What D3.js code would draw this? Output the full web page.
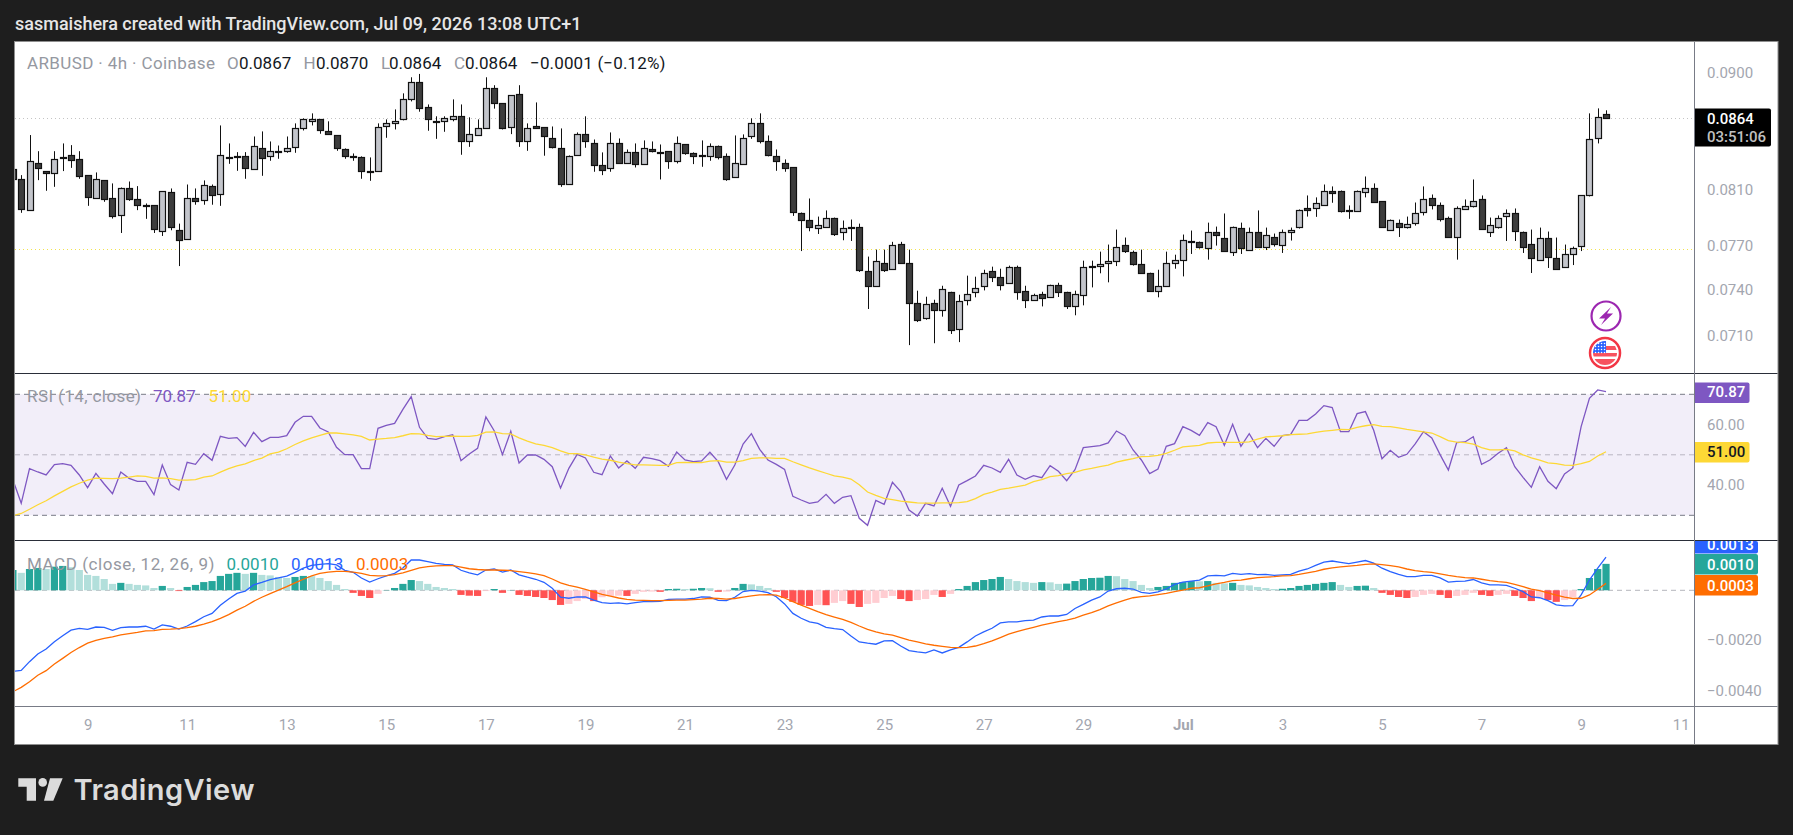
<!DOCTYPE html>
<html>
<head>
<meta charset="utf-8">
<title>ARBUSD 4h</title>
<script src="https://cdn.jsdelivr.net/npm/d3@7"></script>
<style>
  html, body { margin: 0; padding: 0; background: #1e1e1e; overflow: hidden; }
  svg { display: block; }
  text { font-family: Roboto, "Open Sans", sans-serif; }
  .tick text { fill: #a3a6af; font-size: 15px; }
</style>
</head>
<body>
<script>
// values, first entry is the bar cut by the left edge
var opens = [0.08248,0.08174,0.07949,0.08293,0.08233,0.08218,0.08338,0.08353,0.08323,0.08204,0.08035,0.08167,0.08035,0.07913,0.08108,0.08028,0.07985,0.07985,0.07799,0.08079,0.07813,0.07743,0.08035,0.08028,0.08123,0.08064,0.08338,0.08346,0.08346,0.08255,0.08413,0.08346,0.08383,0.08383,0.08413,0.08559,0.08614,0.08629,0.08536,0.08505,0.08398,0.08346,0.08338,0.08233,0.08233,0.08574,0.08598,0.08629,0.08786,0.08922,0.08723,0.08614,0.08614,0.08629,0.08653,0.08459,0.08505,0.08559,0.08874,0.08755,0.08567,0.08826,0.08459,0.08574,0.08567,0.08482,0.08406,0.08137,0.08353,0.08513,0.08444,0.08283,0.08255,0.08444,0.08293,0.08376,0.08285,0.08398,0.08376,0.08383,0.08308,0.08436,0.08368,0.08353,0.08353,0.08428,0.08346,0.08189,0.08285,0.08497,0.08598,0.08459,0.08346,0.08293,0.08263,0.07934,0.07884,0.07827,0.07834,0.07898,0.07799,0.07834,0.07834,0.07529,0.07427,0.07583,0.07542,0.07715,0.07583,0.07315,0.07216,0.07315,0.07268,0.07387,0.07145,0.07334,0.07387,0.07427,0.07529,0.07488,0.07447,0.07556,0.07394,0.07334,0.07374,0.07354,0.07434,0.07387,0.07295,0.07367,0.07563,0.07563,0.07583,0.07597,0.07708,0.07659,0.07577,0.07515,0.07394,0.07427,0.07583,0.07604,0.07736,0.07729,0.07687,0.07799,0.07757,0.07659,0.07827,0.07673,0.07799,0.07694,0.07764,0.07708,0.07799,0.07827,0.07963,0.07963,0.07985,0.08093,0.08093,0.07949,0.07949,0.08086,0.08108,0.08014,0.07813,0.07862,0.07834,0.07862,0.07934,0.08035,0.07985,0.07898,0.07757,0.07956,0.07978,0.08028,0.07799,0.07834,0.07913,0.07927,0.07799,0.07715,0.07604,0.07757,0.07617,0.07556,0.07645,0.07694,0.08057,0.08482,0.08668];
var highs = [0.08268,0.08206,0.08508,0.08385,0.08233,0.08385,0.08444,0.08431,0.08385,0.08204,0.08226,0.08167,0.08145,0.08115,0.08159,0.08125,0.07999,0.07985,0.08086,0.08108,0.07855,0.08137,0.08108,0.08167,0.08137,0.08582,0.08444,0.08378,0.08378,0.08497,0.08536,0.08459,0.08428,0.08497,0.08598,0.08637,0.08676,0.08629,0.08614,0.08505,0.08406,0.08368,0.08346,0.08338,0.08598,0.08629,0.08707,0.08834,0.08963,0.08990,0.08746,0.08653,0.08653,0.08786,0.08746,0.08645,0.08629,0.08963,0.08899,0.08755,0.08818,0.08899,0.08598,0.08762,0.08567,0.08574,0.08559,0.08353,0.08528,0.08653,0.08474,0.08376,0.08528,0.08482,0.08398,0.08444,0.08467,0.08459,0.08436,0.08383,0.08497,0.08436,0.08376,0.08467,0.08444,0.08428,0.08368,0.08505,0.08513,0.08637,0.08676,0.08505,0.08398,0.08323,0.08263,0.07934,0.08035,0.07905,0.07949,0.07898,0.07877,0.07884,0.07855,0.07625,0.07673,0.07673,0.07727,0.07727,0.07673,0.07394,0.07354,0.07334,0.07427,0.07387,0.07367,0.07495,0.07488,0.07535,0.07556,0.07542,0.07563,0.07563,0.07427,0.07374,0.07387,0.07434,0.07447,0.07387,0.07394,0.07597,0.07597,0.07659,0.07708,0.07813,0.07757,0.07666,0.07673,0.07515,0.07535,0.07659,0.07638,0.07778,0.07806,0.07729,0.07862,0.07834,0.07927,0.07834,0.07862,0.07827,0.07949,0.07827,0.07785,0.07813,0.07827,0.07956,0.08057,0.08043,0.08137,0.08123,0.08093,0.07985,0.08093,0.08196,0.08145,0.08014,0.07884,0.07884,0.07905,0.08006,0.08123,0.08064,0.08006,0.07905,0.07978,0.08028,0.08174,0.08057,0.07898,0.07913,0.07956,0.07963,0.07799,0.07813,0.07827,0.07799,0.07757,0.07708,0.07694,0.08057,0.08676,0.08715,0.08700];
var lows = [0.08174,0.07932,0.07949,0.08169,0.08091,0.08120,0.08236,0.08260,0.08179,0.07982,0.08035,0.08011,0.07891,0.07789,0.08018,0.07951,0.07889,0.07789,0.07768,0.07808,0.07560,0.07743,0.07990,0.07990,0.07990,0.07982,0.08290,0.08238,0.08179,0.08255,0.08201,0.08313,0.08328,0.08373,0.08373,0.08543,0.08582,0.08518,0.08513,0.08388,0.08328,0.08313,0.08179,0.08164,0.08233,0.08487,0.08551,0.08621,0.08770,0.08689,0.08541,0.08479,0.08533,0.08614,0.08358,0.08418,0.08505,0.08559,0.08713,0.08551,0.08515,0.08418,0.08388,0.08559,0.08351,0.08406,0.08120,0.08137,0.08353,0.08411,0.08231,0.08206,0.08231,0.08293,0.08293,0.08263,0.08285,0.08376,0.08174,0.08253,0.08293,0.08358,0.08288,0.08268,0.08313,0.08323,0.08164,0.08189,0.08285,0.08479,0.08444,0.08346,0.08238,0.08231,0.07910,0.07663,0.07801,0.07782,0.07834,0.07768,0.07738,0.07733,0.07520,0.07273,0.07427,0.07520,0.07542,0.07583,0.07040,0.07188,0.07203,0.07052,0.07223,0.07111,0.07059,0.07297,0.07350,0.07396,0.07452,0.07396,0.07447,0.07334,0.07279,0.07334,0.07290,0.07354,0.07352,0.07273,0.07232,0.07297,0.07416,0.07511,0.07450,0.07560,0.07650,0.07563,0.07515,0.07394,0.07350,0.07427,0.07542,0.07490,0.07643,0.07680,0.07604,0.07701,0.07666,0.07629,0.07643,0.07673,0.07694,0.07670,0.07694,0.07650,0.07736,0.07820,0.07905,0.07903,0.07985,0.08004,0.07934,0.07889,0.07941,0.08043,0.08006,0.07827,0.07806,0.07761,0.07820,0.07841,0.07913,0.07956,0.07870,0.07764,0.07604,0.07956,0.07970,0.07813,0.07761,0.07820,0.07733,0.07733,0.07650,0.07513,0.07604,0.07547,0.07535,0.07549,0.07567,0.07663,0.08050,0.08444,0.08640];
var closes = [0.08174,0.07956,0.08308,0.08255,0.08218,0.08323,0.08339,0.08316,0.08196,0.08042,0.08174,0.08028,0.07903,0.08108,0.08028,0.07985,0.07986,0.07813,0.08086,0.07827,0.07743,0.08035,0.08014,0.08137,0.08057,0.08353,0.08339,0.08347,0.08255,0.08428,0.08338,0.08383,0.08384,0.08406,0.08559,0.08629,0.08629,0.08543,0.08513,0.08406,0.08346,0.08347,0.08233,0.08223,0.08567,0.08598,0.08614,0.08786,0.08922,0.08715,0.08629,0.08606,0.08637,0.08653,0.08459,0.08513,0.08559,0.08874,0.08755,0.08559,0.08818,0.08459,0.08559,0.08559,0.08497,0.08413,0.08137,0.08346,0.08513,0.08459,0.08278,0.08248,0.08444,0.08293,0.08376,0.08285,0.08406,0.08383,0.08368,0.08308,0.08444,0.08368,0.08346,0.08346,0.08428,0.08346,0.08174,0.08293,0.08482,0.08598,0.08459,0.08353,0.08308,0.08255,0.07934,0.07884,0.07834,0.07848,0.07898,0.07785,0.07827,0.07827,0.07535,0.07427,0.07597,0.07535,0.07708,0.07583,0.07315,0.07203,0.07308,0.07268,0.07407,0.07138,0.07328,0.07374,0.07414,0.07515,0.07488,0.07434,0.07556,0.07387,0.07334,0.07367,0.07348,0.07434,0.07387,0.07295,0.07374,0.07556,0.07554,0.07577,0.07597,0.07694,0.07666,0.07577,0.07515,0.07394,0.07427,0.07583,0.07604,0.07743,0.07729,0.07694,0.07799,0.07778,0.07666,0.07834,0.07687,0.07799,0.07694,0.07778,0.07715,0.07799,0.07813,0.07949,0.07949,0.07999,0.08086,0.08079,0.07949,0.07950,0.08093,0.08115,0.08006,0.07827,0.07884,0.07834,0.07855,0.07934,0.08028,0.07985,0.07884,0.07764,0.07963,0.07978,0.08014,0.07813,0.07848,0.07898,0.07934,0.07799,0.07694,0.07617,0.07757,0.07625,0.07542,0.07645,0.07687,0.08057,0.08474,0.08645,0.08640];

var rsi = [41.7,33.96,45.42,44.32,43.33,46.74,47.07,46.52,43.33,39.14,43.88,40.35,37.16,44.32,42.23,41.23,41.23,36.83,46.63,40.13,38.37,47.51,46.85,50.38,48.18,56.11,55.45,55.67,52.80,57.43,54.35,55.78,55.78,56.33,60.74,62.72,62.72,58.87,57.54,52.47,50.05,50.05,45.42,45.42,58.76,59.75,60.41,65.04,69.22,59.09,55.45,55.12,56.00,56.66,48.07,50.27,52.14,62.50,57.98,50.05,57.76,47.29,49.94,49.94,48.51,46.08,39.03,45.53,50.16,48.95,44.21,43.44,49.61,45.64,47.96,45.53,49.17,48.73,48.07,46.19,50.93,48.29,47.74,47.96,50.82,47.74,41.89,46.63,53.58,56.99,51.81,48.29,46.85,45.20,36.27,35.06,33.96,34.40,36.94,33.96,35.94,36.50,29.00,26.69,34.95,33.63,40.90,37.82,31.76,29.77,33.96,33.08,38.92,32.97,40.02,41.45,43.00,46.52,45.64,44.21,48.51,43.33,41.89,43.11,42.45,46.41,44.54,41.45,45.09,52.36,52.69,53.02,53.91,57.87,56.33,51.59,48.29,43.77,45.31,52.80,53.69,59.31,58.09,56.44,60.63,59.31,53.13,60.08,52.80,56.99,52.36,55.45,52.80,56.33,56.77,61.40,61.40,63.49,66.25,65.59,57.65,57.65,63.60,64.27,58.09,48.73,51.48,49.17,50.16,53.58,57.65,55.56,50.05,44.98,54.02,54.24,56.00,46.85,48.29,50.49,52.36,46.08,42.56,39.25,46.08,41.23,38.81,43.66,45.64,59.31,68.67,71.43,70.87];
var rsiMa = [29.9,30.6,32.0,33.5,34.8,36.4,37.9,39.4,40.6,41.6,42.3,42.2,42.1,42.3,42.6,43.0,42.9,42.3,42.4,42.1,41.6,41.6,41.8,42.6,43.0,44.3,45.4,46.3,47.0,48.1,48.9,50.3,50.9,52.0,53.4,54.6,55.6,56.4,57.2,57.2,56.9,56.6,56.1,54.9,55.2,55.4,55.7,56.3,57.0,56.9,56.4,56.0,56.1,56.2,56.1,56.1,56.4,57.5,57.6,57.0,56.9,55.6,54.5,53.6,53.1,52.4,51.3,50.4,50.4,50.0,49.2,48.6,48.2,47.6,47.1,46.7,46.7,46.6,46.5,46.5,47.4,47.5,47.4,47.4,47.9,48.1,47.6,47.6,48.1,48.8,49.0,49.0,48.8,48.8,47.7,46.7,45.7,44.8,43.9,43.0,42.6,42.0,40.1,37.7,36.6,35.6,35.2,34.7,34.4,34.1,34.0,34.0,34.1,34.1,34.2,34.5,35.5,36.9,37.7,38.6,39.0,39.5,40.0,41.1,41.8,42.8,43.1,43.8,44.2,45.0,45.5,46.1,46.6,47.6,48.2,48.7,49.4,49.5,49.8,50.5,51.5,52.6,52.9,53.1,53.9,54.1,54.1,54.1,54.1,54.3,55.2,55.9,56.1,56.3,56.7,56.8,56.9,57.4,57.8,58.1,58.4,58.3,59.1,59.6,60.0,59.4,59.3,58.9,58.4,58.0,57.6,57.2,56.0,54.7,54.2,54.0,53.5,52.4,51.6,51.6,51.8,51.3,50.0,49.0,48.2,47.3,47.1,46.6,46.5,47.1,47.8,49.6,51.0];

var macdHist = [0.00079,0.00068,0.00083,0.00087,0.00083,0.00092,0.00095,0.00090,0.00079,0.00060,0.00056,0.00044,0.00025,0.00029,0.00025,0.00021,0.00019,0.00009,0.00017,0.00009,-0.00003,0.00013,0.00021,0.00032,0.00036,0.00056,0.00064,0.00068,0.00064,0.00068,0.00060,0.00058,0.00052,0.00048,0.00052,0.00056,0.00055,0.00048,0.00036,0.00021,0.00005,-0.00010,-0.00022,-0.00030,-0.00014,0.00001,0.00009,0.00025,0.00040,0.00036,0.00025,0.00013,0.00009,0.00005,-0.00018,-0.00021,-0.00022,-0.00003,0.00005,-0.00010,0.00001,-0.00018,-0.00022,-0.00026,-0.00030,-0.00038,-0.00057,-0.00053,-0.00042,-0.00034,-0.00042,-0.00027,-0.00022,-0.00021,-0.00022,-0.00014,-0.00006,-0.00005,-0.00006,0.00005,0.00006,0.00005,0.00006,0.00009,0.00008,-0.00006,-0.00005,0.00009,0.00025,0.00023,0.00017,0.00009,-0.00006,-0.00030,-0.00045,-0.00057,-0.00061,-0.00057,-0.00058,-0.00049,-0.00042,-0.00053,-0.00065,-0.00053,-0.00049,-0.00030,-0.00022,-0.00034,-0.00042,-0.00038,-0.00034,-0.00018,-0.00026,-0.00014,0.00005,0.00017,0.00032,0.00040,0.00044,0.00052,0.00044,0.00036,0.00032,0.00029,0.00032,0.00031,0.00025,0.00026,0.00036,0.00044,0.00048,0.00049,0.00056,0.00055,0.00044,0.00036,0.00021,0.00009,0.00013,0.00017,0.00029,0.00032,0.00036,0.00035,0.00036,0.00029,0.00027,0.00029,0.00021,0.00019,0.00013,0.00009,0.00005,0.00006,0.00009,0.00017,0.00021,0.00025,0.00029,0.00032,0.00021,0.00013,0.00017,0.00018,0.00009,-0.00010,-0.00018,-0.00026,-0.00030,-0.00026,-0.00018,-0.00014,-0.00018,-0.00030,-0.00022,-0.00018,-0.00010,-0.00018,-0.00022,-0.00018,-0.00014,-0.00022,-0.00030,-0.00042,-0.00030,-0.00038,-0.00045,-0.00038,-0.00026,0.00005,0.00048,0.00083,0.00103];
var macdLine = [-0.00316,-0.00312,-0.00278,-0.00248,-0.00229,-0.00200,-0.00177,-0.00155,-0.00148,-0.00152,-0.00143,-0.00144,-0.00156,-0.00145,-0.00143,-0.00143,-0.00140,-0.00151,-0.00135,-0.00140,-0.00151,-0.00139,-0.00122,-0.00103,-0.00090,-0.00058,-0.00034,-0.00012,-0.00003,0.00021,0.00031,0.00042,0.00048,0.00055,0.00070,0.00086,0.00097,0.00101,0.00104,0.00099,0.00078,0.00070,0.00048,0.00032,0.00045,0.00056,0.00066,0.00087,0.00118,0.00118,0.00112,0.00105,0.00101,0.00099,0.00078,0.00068,0.00060,0.00079,0.00083,0.00071,0.00079,0.00060,0.00051,0.00043,0.00031,0.00008,-0.00027,-0.00031,-0.00026,-0.00026,-0.00038,-0.00048,-0.00051,-0.00049,-0.00053,-0.00048,-0.00044,-0.00044,-0.00043,-0.00035,-0.00034,-0.00034,-0.00032,-0.00026,-0.00027,-0.00039,-0.00040,-0.00027,-0.00005,0.00000,-0.00003,-0.00009,-0.00025,-0.00053,-0.00090,-0.00109,-0.00123,-0.00129,-0.00144,-0.00149,-0.00153,-0.00178,-0.00201,-0.00206,-0.00210,-0.00197,-0.00196,-0.00217,-0.00235,-0.00240,-0.00244,-0.00232,-0.00244,-0.00232,-0.00222,-0.00201,-0.00178,-0.00162,-0.00148,-0.00127,-0.00123,-0.00123,-0.00118,-0.00116,-0.00104,-0.00100,-0.00100,-0.00094,-0.00071,-0.00055,-0.00038,-0.00026,-0.00003,0.00006,0.00008,0.00005,-0.00008,-0.00012,-0.00006,0.00005,0.00023,0.00032,0.00036,0.00040,0.00056,0.00058,0.00056,0.00066,0.00062,0.00065,0.00061,0.00062,0.00058,0.00060,0.00062,0.00075,0.00083,0.00097,0.00110,0.00114,0.00109,0.00104,0.00110,0.00116,0.00106,0.00086,0.00073,0.00062,0.00053,0.00053,0.00058,0.00058,0.00048,0.00032,0.00035,0.00036,0.00042,0.00029,0.00021,0.00021,0.00019,0.00008,-0.00005,-0.00026,-0.00029,-0.00040,-0.00057,-0.00061,-0.00060,-0.00018,0.00040,0.00086,0.00129];
var macdSignal = [-0.00395,-0.00378,-0.00356,-0.00331,-0.00313,-0.00287,-0.00265,-0.00242,-0.00223,-0.00206,-0.00195,-0.00187,-0.00181,-0.00174,-0.00169,-0.00164,-0.00158,-0.00157,-0.00152,-0.00151,-0.00149,-0.00145,-0.00140,-0.00132,-0.00122,-0.00109,-0.00095,-0.00077,-0.00062,-0.00043,-0.00027,-0.00013,0.00001,0.00014,0.00029,0.00043,0.00056,0.00066,0.00071,0.00074,0.00074,0.00071,0.00066,0.00058,0.00056,0.00057,0.00061,0.00068,0.00078,0.00087,0.00092,0.00095,0.00096,0.00096,0.00090,0.00084,0.00081,0.00079,0.00079,0.00078,0.00077,0.00073,0.00069,0.00064,0.00057,0.00044,0.00029,0.00019,0.00012,0.00004,-0.00006,-0.00016,-0.00023,-0.00030,-0.00035,-0.00038,-0.00039,-0.00040,-0.00040,-0.00039,-0.00038,-0.00038,-0.00036,-0.00034,-0.00031,-0.00032,-0.00034,-0.00032,-0.00027,-0.00022,-0.00018,-0.00017,-0.00019,-0.00030,-0.00044,-0.00058,-0.00070,-0.00083,-0.00095,-0.00104,-0.00113,-0.00125,-0.00139,-0.00152,-0.00162,-0.00170,-0.00175,-0.00184,-0.00194,-0.00201,-0.00209,-0.00214,-0.00218,-0.00222,-0.00223,-0.00222,-0.00217,-0.00208,-0.00197,-0.00184,-0.00171,-0.00161,-0.00152,-0.00144,-0.00136,-0.00129,-0.00122,-0.00116,-0.00108,-0.00097,-0.00087,-0.00075,-0.00061,-0.00049,-0.00038,-0.00029,-0.00025,-0.00022,-0.00017,-0.00012,-0.00005,0.00001,0.00008,0.00010,0.00017,0.00025,0.00031,0.00038,0.00040,0.00045,0.00049,0.00051,0.00053,0.00056,0.00057,0.00062,0.00068,0.00074,0.00082,0.00087,0.00091,0.00094,0.00097,0.00101,0.00103,0.00100,0.00096,0.00091,0.00083,0.00077,0.00073,0.00070,0.00064,0.00058,0.00053,0.00049,0.00048,0.00043,0.00038,0.00034,0.00031,0.00023,0.00014,0.00005,-0.00001,-0.00010,-0.00019,-0.00027,-0.00032,-0.00031,-0.00018,0.00004,0.00027];

var priceTicks = [0.09, 0.081, 0.077, 0.074, 0.071];
var rsiTicks = [60, 40];
var macdTicks = [-0.002, -0.004];
var dayTicks = [
  new Date(Date.UTC(2026,5,9)), new Date(Date.UTC(2026,5,11)), new Date(Date.UTC(2026,5,13)),
  new Date(Date.UTC(2026,5,15)), new Date(Date.UTC(2026,5,17)), new Date(Date.UTC(2026,5,19)),
  new Date(Date.UTC(2026,5,21)), new Date(Date.UTC(2026,5,23)), new Date(Date.UTC(2026,5,25)),
  new Date(Date.UTC(2026,5,27)), new Date(Date.UTC(2026,5,29)), new Date(Date.UTC(2026,6,1)),
  new Date(Date.UTC(2026,6,3)), new Date(Date.UTC(2026,6,5)), new Date(Date.UTC(2026,6,7)),
  new Date(Date.UTC(2026,6,9)), new Date(Date.UTC(2026,6,11))
];

var lastPrice = 0.0864, supportPrice = 0.0768;

var dates = opens.map(function(d, i) {
  return new Date(Date.UTC(2026, 5, 7, 12 + i * 4));
});

var W = 1793, H = 835;
var left = 15, right = 1694, outer = 1777.5, frameTop = 42, frameBottom = 744;
var pane1 = 373.5, pane2 = 540.5, pane3 = 706.5;

var x = d3.scaleUtc()
    .domain([new Date(Date.UTC(2026,5,9)), new Date(Date.UTC(2026,6,11))])
    .range([87.6, 1680.7]);
var y = d3.scaleLog().domain([0.09, 0.071]).range([72.7, 335.7]);
var yRsi = d3.scaleLinear().domain([70, 30]).range([394.3, 515.3]);
var yMacd = d3.scaleLinear().domain([0, -0.004]).range([590.3, 693]);

var svg = d3.select("body").append("svg").attr("width", W).attr("height", H);
var defs = svg.append("defs");

function clip(id, y0, y1) {
  defs.append("clipPath").attr("id", id).append("rect")
      .attr("x", left).attr("y", y0).attr("width", right - left).attr("height", y1 - y0);
}
clip("c1", frameTop, pane1);
clip("c2", pane1, pane2);
clip("c3", pane2, pane3);

// frame
svg.append("rect").attr("x", left - 0.5).attr("y", frameTop - 0.5)
    .attr("width", outer - left + 1).attr("height", frameBottom - frameTop + 1)
    .attr("fill", "#fff").attr("stroke", "#8f8f8f");

function hline(yy, x1, color, dash, width) {
  svg.append("line").attr("x1", left).attr("x2", x1).attr("y1", yy).attr("y2", yy)
      .attr("stroke", color).attr("stroke-width", width || 1)
      .attr("stroke-dasharray", dash || null);
}

// ---- price pane
var g1 = svg.append("g").attr("clip-path", "url(#c1)");
g1.append("line").attr("x1", left).attr("x2", right)
    .attr("y1", Math.round(y(lastPrice)) + 0.5).attr("y2", Math.round(y(lastPrice)) + 0.5)
    .attr("stroke", "#c4c4c4").attr("stroke-dasharray", "1 3");
g1.append("line").attr("x1", left).attr("x2", right)
    .attr("y1", Math.round(y(supportPrice)) + 0.5).attr("y2", Math.round(y(supportPrice)) + 0.5)
    .attr("stroke", "#f2e34c").attr("stroke-dasharray", "1 3");

var candle = g1.selectAll("g.candle").data(dates).enter().append("g").attr("class", "candle");
candle.append("line")
    .attr("x1", function(d) { return Math.round(x(d)) + 0.5; })
    .attr("x2", function(d) { return Math.round(x(d)) + 0.5; })
    .attr("y1", function(d, i) { return y(highs[i]); })
    .attr("y2", function(d, i) { return y(lows[i]); })
    .attr("stroke", "#111");
candle.append("rect")
    .attr("x", function(d) { return Math.round(x(d)) - 2.5; })
    .attr("width", 6)
    .attr("y", function(d, i) { return Math.round(y(Math.max(opens[i], closes[i]))) + 0.5; })
    .attr("height", function(d, i) {
      return Math.max(1, Math.round(Math.abs(y(opens[i]) - y(closes[i]))));
    })
    .attr("fill", function(d, i) { return closes[i] >= opens[i] ? "#c3c5cb" : "#3d3d3d"; })
    .attr("stroke", "#111")
    .attr("stroke-width", 1.2);

// ---- rsi pane
var g2 = svg.append("g").attr("clip-path", "url(#c2)");
g2.append("rect").attr("x", left).attr("width", right - left)
    .attr("y", yRsi(70)).attr("height", yRsi(30) - yRsi(70))
    .attr("fill", "#7e57c2").attr("fill-opacity", 0.1);
[[70, "#787b86"], [50, "#b9b5c2"], [30, "#787b86"]].forEach(function(r) {
  g2.append("line").attr("x1", left).attr("x2", right)
      .attr("y1", yRsi(r[0])).attr("y2", yRsi(r[0]))
      .attr("stroke", r[1]).attr("stroke-dasharray", "5 4");
});
var rsiPath = d3.line().x(function(d, i) { return x(dates[i]); }).y(function(d) { return yRsi(d); });
g2.append("path").datum(rsi).attr("d", rsiPath)
    .attr("fill", "none").attr("stroke", "#7e57c2").attr("stroke-width", 1.3);
g2.append("path").datum(rsiMa).attr("d", rsiPath)
    .attr("fill", "none").attr("stroke", "#fdd835").attr("stroke-width", 1.3);

// ---- macd pane
var g3 = svg.append("g").attr("clip-path", "url(#c3)");
g3.append("line").attr("x1", left).attr("x2", right)
    .attr("y1", yMacd(0)).attr("y2", yMacd(0))
    .attr("stroke", "#b4b6bc").attr("stroke-dasharray", "5 4");
g3.selectAll("rect.bar").data(macdHist).enter().append("rect")
    .attr("class", "bar")
    .attr("x", function(d, i) { return x(dates[i]) - 3.6; })
    .attr("width", 7.2)
    .attr("y", function(d) { return Math.min(yMacd(d), yMacd(0)); })
    .attr("height", function(d) { return Math.abs(yMacd(d) - yMacd(0)); })
    .attr("fill", function(d, i) {
      var prev = i ? macdHist[i - 1] : 0;
      if (d >= 0) return d > prev ? "#26a69a" : "#b2dfdb";
      return d < prev ? "#ff5252" : "#ffcdd2";
    });
var macdPath = d3.line().x(function(d, i) { return x(dates[i]); }).y(function(d) { return yMacd(d); });
g3.append("path").datum(macdLine).attr("d", macdPath)
    .attr("fill", "none").attr("stroke", "#2962ff").attr("stroke-width", 1.3);
g3.append("path").datum(macdSignal).attr("d", macdPath)
    .attr("fill", "none").attr("stroke", "#ff6d00").attr("stroke-width", 1.3);

// ---- pane borders
hline(pane1, outer, "#2a2e39");
hline(pane2, outer, "#2a2e39");
hline(pane3, outer, "#787b86");
svg.append("line").attr("x1", right + 0.5).attr("x2", right + 0.5).attr("y1", frameTop).attr("y2", frameBottom)
    .attr("stroke", "#787b86");

// ---- axes
function styleAxis(g) {
  g.select(".domain").remove();
  g.selectAll(".tick line").remove();
  g.selectAll(".tick text").attr("x", 13);
}
svg.append("g").attr("transform", "translate(" + right + ",0)")
    .call(d3.axisRight(y).tickValues(priceTicks).tickFormat(d3.format(".4f")).tickSize(0))
    .call(styleAxis);
svg.append("g").attr("transform", "translate(" + right + ",0)")
    .call(d3.axisRight(yRsi).tickValues(rsiTicks).tickFormat(d3.format(".2f")).tickSize(0))
    .call(styleAxis);
svg.append("g").attr("transform", "translate(" + right + ",-2.3)")
    .call(d3.axisRight(yMacd).tickValues(macdTicks)
      .tickFormat(function(d) { return "\u2212" + d3.format(".4f")(-d); }).tickSize(0))
    .call(styleAxis);

var xAxis = svg.append("g").attr("transform", "translate(0,725)")
    .call(d3.axisBottom(x).tickValues(dayTicks).tickSize(0)
      .tickFormat(function(d) { return d.getUTCDate() === 1 ? "Jul" : d.getUTCDate(); }));
xAxis.select(".domain").remove();
xAxis.selectAll(".tick line").remove();
xAxis.selectAll(".tick text").attr("y", 0).attr("dy", "0.35em")
    .style("font-weight", function(d) { return d.getUTCDate() === 1 ? 700 : 400; });

// ---- price tags
function tag(y0, y1, width, color) {
  var gt = svg.append("g");
  gt.append("path")
      .attr("d", "M" + (right + 1) + "," + y0 + "H" + (right + width - 2) + "q2,0 2,2V" + (y1 - 2) +
        "q0,2 -2,2H" + (right + 1) + "Z")
      .attr("fill", color);
  return gt;
}
function tagText(gt, yy, s, color) {
  gt.append("text").attr("x", right + 13).attr("y", yy).attr("dy", "0.35em")
      .attr("fill", color).style("font-size", "15px").style("font-weight", 500).text(s);
}
var tPrice = tag(108.5, 146.5, 77, "#000");
tagText(tPrice, 119, "0.0864", "#fff");
tagText(tPrice, 137, "03:51:06", "#c0c0c0");
tagText(tag(382.5, 403, 55.5, "#7e57c2"), yRsi(70.87), "70.87", "#fff");
tagText(tag(442, 462.5, 55.5, "#fdd835"), yRsi(51) - 0.5, "51.00", "#131722");
var tBlue = tag(541, 553.5, 64, "#2962ff");
tBlue.append("clipPath").attr("id", "c4").append("rect")
    .attr("x", right).attr("y", 541).attr("width", 70).attr("height", 14);
tBlue.append("text").attr("x", right + 13).attr("y", 545).attr("dy", "0.35em")
    .attr("clip-path", "url(#c4)").attr("fill", "#fff")
    .style("font-size", "15px").style("font-weight", 500).text("0.0013");
tagText(tag(554, 574.5, 64, "#26a69a"), 564.5, "0.0010", "#fff");
tagText(tag(575, 595.5, 64, "#ff6d00"), 585.5, "0.0003", "#fff");

// ---- legends
function legend(xx, yy, s, color, len) {
  var t = svg.append("text").attr("x", xx).attr("y", yy).attr("dy", "0.35em")
      .attr("fill", color).style("font-size", "17px").text(s);
  if (len) t.attr("textLength", len);
}
var grey = "#9598a1";
legend(27, 63.5, "ARBUSD \u00b7 4h \u00b7 Coinbase", grey, 188);
legend(227, 63.5, "O", grey); legend(239, 63.5, "0.0867", "#131722");
legend(303.5, 63.5, "H", grey); legend(316, 63.5, "0.0870", "#131722");
legend(381, 63.5, "L", grey); legend(389, 63.5, "0.0864", "#131722");
legend(454, 63.5, "C", grey); legend(465, 63.5, "0.0864", "#131722");
legend(530, 63.5, "\u22120.0001 (\u22120.12%)", "#131722", 135.5);
legend(27, 396.5, "RSI (14, close)", grey, 114);
legend(153, 396.5, "70.87", "#7e57c2");
legend(208.5, 396.5, "51.00", "#fdd835");
legend(27, 564, "MACD (close, 12, 26, 9)", grey, 187.5);
legend(226.5, 564, "0.0010", "#26a69a");
legend(291, 564, "0.0013", "#2962ff");
legend(356, 564, "0.0003", "#ff6d00");

// ---- event markers
var ex = x(dates[dates.length - 1]);
var bolt = svg.append("g").attr("transform", "translate(" + ex + ",316)");
bolt.append("circle").attr("r", 14.5).attr("fill", "#fff").attr("stroke", "#9c27b0").attr("stroke-width", 2.2);
bolt.append("path").attr("d", "M5,-9 L-7,2.5 H-1 L-5,9 L7,-2.5 H1 Z").attr("fill", "#9c27b0");
var flag = svg.append("g").attr("transform", "translate(" + (ex - 1) + ",353)");
flag.append("circle").attr("r", 15).attr("fill", "#fff").attr("stroke", "#f23645").attr("stroke-width", 2.5);
defs.append("clipPath").attr("id", "flagClip").append("circle").attr("r", 12);
var fl = flag.append("g").attr("clip-path", "url(#flagClip)");
fl.append("rect").attr("x", -12).attr("y", -12).attr("width", 24).attr("height", 24).attr("fill", "#fff");
fl.append("rect").attr("x", -12).attr("y", -7).attr("width", 24).attr("height", 4).attr("fill", "#f7525f");
fl.append("rect").attr("x", -12).attr("y", 0).attr("width", 24).attr("height", 3.5).attr("fill", "#f7525f");
fl.append("rect").attr("x", -12).attr("y", 6).attr("width", 24).attr("height", 6).attr("fill", "#f7525f");
fl.append("rect").attr("x", -12).attr("y", -12).attr("width", 13).attr("height", 12).attr("fill", "#2962ff");
d3.range(4).forEach(function(r) {
  d3.range(4).forEach(function(c) {
    fl.append("circle").attr("cx", -9.5 + c * 3).attr("cy", -9.5 + r * 3).attr("r", 0.8).attr("fill", "#fff");
  });
});

// ---- header and footer
svg.append("text").attr("x", 15).attr("y", 23.5).attr("dy", "0.35em")
    .attr("fill", "#e6e6e6").style("font-size", "18px").style("font-weight", 500)
    .text("sasmaishera created with TradingView.com, Jul 09, 2026 13:08 UTC+1");
var logo = svg.append("g").attr("fill", "#dcdcdc");
logo.append("path").attr("d", "M18.3,778.3 H36 V800.7 H26.7 V786.7 H18.3 Z");
logo.append("circle").attr("cx", 42.7).attr("cy", 782.4).attr("r", 4.3);
logo.append("path").attr("d", "M50,778.3 H62.7 L53.3,800.7 H44 Z");
logo.append("text").attr("x", 73.5).attr("y", 800)
    .style("font-family", "Inter, Roboto, sans-serif").style("font-size", "29px").style("font-weight", 600)
    .attr("textLength", 181).text("TradingView");
</script>
</body>
</html>
